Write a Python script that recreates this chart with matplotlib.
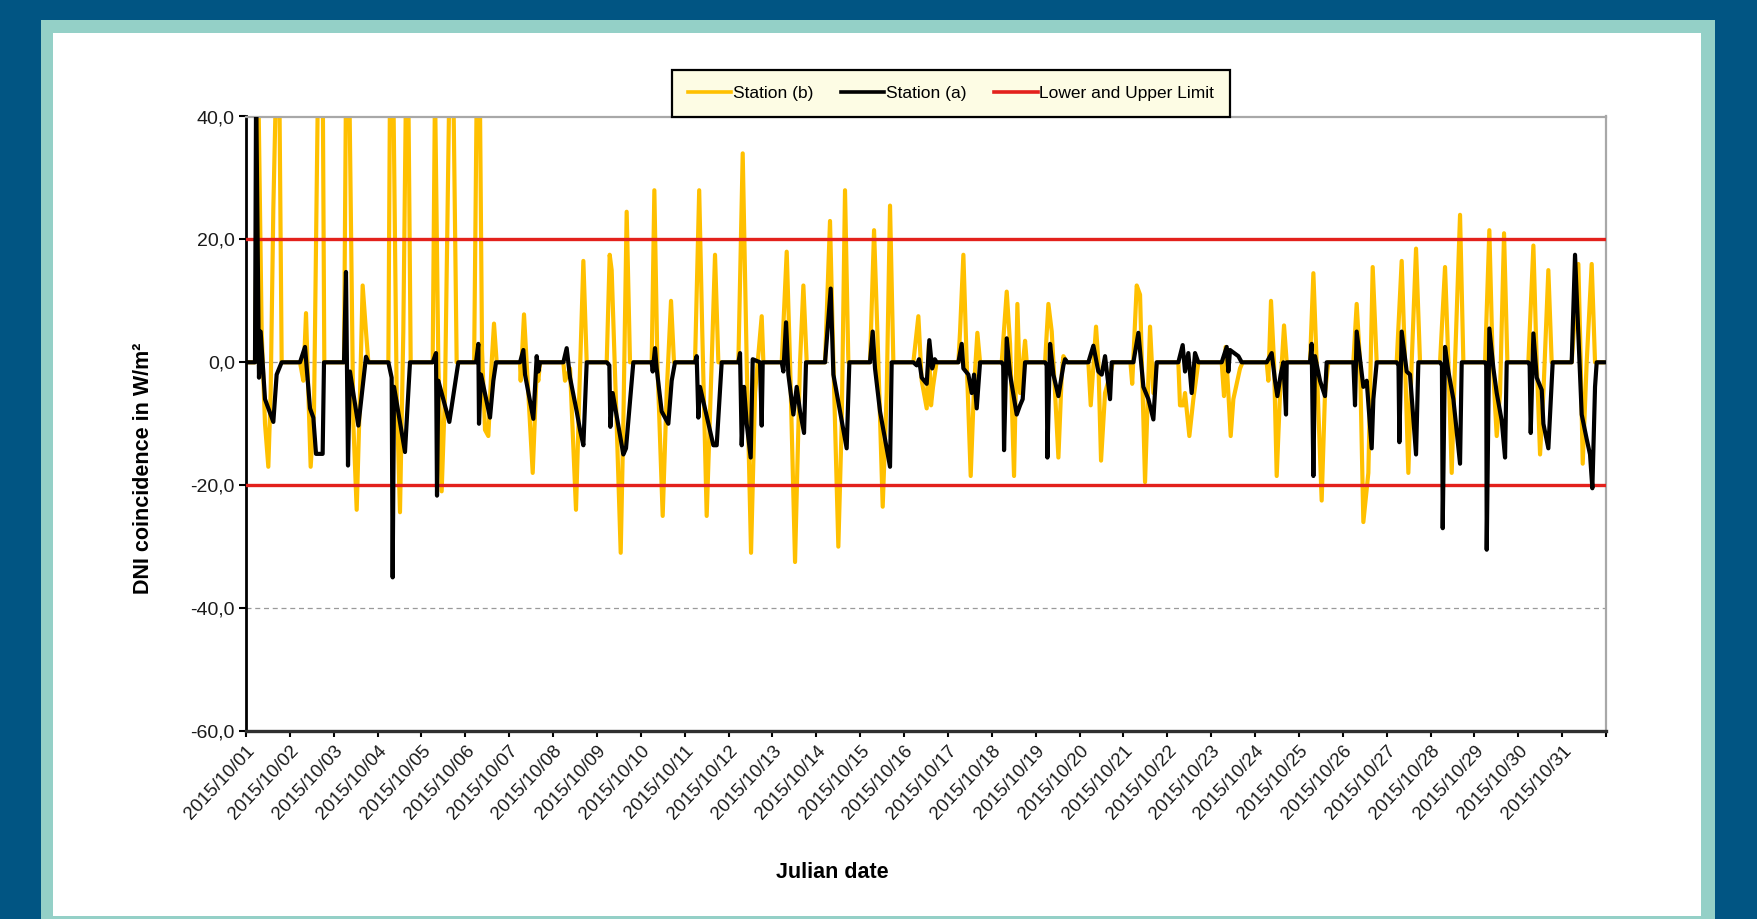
import matplotlib
matplotlib.use("Agg")
import matplotlib.pyplot as plt
from matplotlib.patches import Rectangle
from matplotlib.lines import Line2D
from matplotlib.ticker import FuncFormatter

plt.rcParams['font.family'] = ['Liberation Sans', 'DejaVu Sans']

W, H = 1757, 919

# tick labels on the x axis (one per day)
day_labels = [
    "2015/10/01", "2015/10/02", "2015/10/03", "2015/10/04", "2015/10/05",
    "2015/10/06", "2015/10/07", "2015/10/08", "2015/10/09", "2015/10/10",
    "2015/10/11", "2015/10/12", "2015/10/13", "2015/10/14", "2015/10/15",
    "2015/10/16", "2015/10/17", "2015/10/18", "2015/10/19", "2015/10/20",
    "2015/10/21", "2015/10/22", "2015/10/23", "2015/10/24", "2015/10/25",
    "2015/10/26", "2015/10/27", "2015/10/28", "2015/10/29", "2015/10/30",
    "2015/10/31",
]
y_ticks = [-60, -40, -20, 0, 20, 40]
limits = [-20, 20]

# Station (b): time in days since 2015/10/01 00:00, DNI difference in W/m2
b_t = [0.0,
       0.205, 0.281, 0.357, 0.433, 0.509, 0.562, 0.623, 0.684, 0.760, 0.813,
       1.231, 1.307, 1.368, 1.421, 1.474, 1.550, 1.640, 1.750, 1.785,
       2.234, 2.279, 2.355, 2.447, 2.523, 2.599, 2.659, 2.735, 2.789,
       3.245, 3.282, 3.358, 3.434, 3.510, 3.586, 3.647, 3.700, 3.754,
       4.255, 4.308, 4.384, 4.460, 4.536, 4.635, 4.726, 4.802,
       5.200, 5.260, 5.330, 5.380, 5.448, 5.524, 5.600, 5.653, 5.714,
       6.246, 6.261, 6.337, 6.436, 6.535, 6.626, 6.664, 6.702,
       7.234, 7.272, 7.386, 7.522, 7.598, 7.690, 7.766,
       8.222, 8.290, 8.335, 8.449, 8.541, 8.601, 8.677, 8.753,
       9.247, 9.308, 9.377, 9.498, 9.589, 9.688, 9.756,
       10.235, 10.330, 10.400, 10.463, 10.501, 10.615, 10.691, 10.767,
       11.223, 11.322, 11.413, 11.512, 11.603, 11.755, 11.793,
       12.211, 12.325, 12.401, 12.515, 12.568, 12.629, 12.705, 12.781,
       13.199, 13.312, 13.389, 13.502, 13.578, 13.654, 13.730,
       14.224, 14.316, 14.414, 14.513, 14.604, 14.680, 14.756,
       15.212, 15.326, 15.402, 15.516, 15.565, 15.615, 15.660, 15.740,
       16.238, 16.276, 16.352, 16.428, 16.519, 16.595, 16.671, 16.732,
       17.226, 17.340, 17.416, 17.507, 17.583, 17.644, 17.758, 17.796,
       18.214, 18.290, 18.366, 18.442, 18.518, 18.594, 18.632, 18.708,
       19.201, 19.255, 19.376, 19.429, 19.490, 19.581, 19.733, 19.756,
       20.160, 20.200, 20.303, 20.379, 20.493, 20.607, 20.683, 20.759,
       21.252, 21.290, 21.366, 21.404, 21.503, 21.594, 21.708,
       22.240, 22.293, 22.330, 22.392, 22.445, 22.506, 22.658, 22.718,
       23.266, 23.304, 23.364, 23.433, 23.494, 23.570, 23.661, 23.722,
       24.253, 24.330, 24.405, 24.519, 24.595, 24.671,
       25.241, 25.317, 25.393, 25.469, 25.583, 25.682, 25.773,
       26.229, 26.343, 26.419, 26.495, 26.571, 26.670, 26.761,
       27.217, 27.331, 27.407, 27.483, 27.559, 27.673, 27.749,
       28.243, 28.341, 28.417, 28.509, 28.585, 28.676, 28.752,
       29.230, 29.345, 29.421, 29.497, 29.573, 29.686, 29.762,
       30.218, 30.370, 30.424, 30.469, 30.560, 30.674, 30.750,
       31.0]
b_v = [0,
       0, 45, 5, -10, -17, -5, 25, 45, 45, 0,
       0, -3, 8, -5, -17, -8, 45, 45, 0,
       0, 45, 45, -10, -24, -5, 12.5, 5, 0,
       0, 45, 45, -5, -24.4, 5, 45, 45, 0,
       0, 45, 0, -21, -5, 45, 45, 0,
       0, 45, 45, 2, -11, -12, 0, 6.3, 0,
       0, -3, 7.8, -5, -18, -1.5, -3, 0,
       0, -3, -1, -24, -5, 16.5, 0,
       0, 17.5, 15, -10, -31, -10, 24.5, 0,
       0, 28, 0, -25, -5, 10, 0,
       0, 28, 5, -14, -25, 0, 17.5, 0,
       0, 34, 0, -31, -5, 7.5, 0,
       0, 18, 0, -32.5, -17, 0, 12.5, 0,
       0, 23, 0, -30, -10, 28, 0,
       0, 21.5, 0, -23.5, -5, 25.5, 0,
       0, 7.5, -3, -7.5, 3, -7, -4, 0,
       0, 5, 17.5, 0, -18.5, -4, 4.8, 0,
       0, 11.5, 3, -18.5, 9.5, -5, 3.5, 0,
       0, 9.5, 5, -5, -15.5, -2, 1, 0,
       0, -7, 5.8, 0, -16, -5, -1, 0,
       0, -3.5, 12.5, 11, -19.5, 5.8, -5, 0,
       0, -7, -7, -5, -12, -6, 0,
       0, -5.5, 2.5, -5, -12, -6, -1, 0,
       0, -3, 10, 0, -18.5, -5, 6, 0,
       0, 14.5, 0, -22.5, -5, 0,
       0, 9.5, 0, -26, -18, 15.5, 0,
       0, 16.5, 0, -18, 0, 18.5, 0,
       0, 15.5, 0, -18, 0, 24, 0,
       0, 21.5, 0, -12, -5, 21, 0,
       0, 19, 0, -15, -5, 15, 0,
       0, 16, 0, -16.5, 0, 16, 0,
       0]

# Station (a)
a_t = [0.0,
       0.205, 0.230, 0.296, 0.334, 0.433, 0.623, 0.699, 0.813,
       1.231, 1.345, 1.459, 1.535, 1.596, 1.747, 1.778,
       2.234, 2.279, 2.325, 2.370, 2.561, 2.735, 2.789,
       3.245, 3.320, 3.343, 3.374, 3.624, 3.738,
       4.255, 4.331, 4.354, 4.384, 4.635, 4.840,
       5.243, 5.296, 5.311, 5.357, 5.562, 5.638, 5.699,
       6.246, 6.322, 6.360, 6.550, 6.626, 6.664, 6.702,
       7.234, 7.310, 7.386, 7.538, 7.614, 7.690, 7.766,
       8.222, 8.282, 8.305, 8.358, 8.601, 8.662, 8.829,
       9.247, 9.270, 9.323, 9.361, 9.475, 9.627, 9.703, 9.779,
       10.235, 10.273, 10.311, 10.349, 10.653, 10.729, 10.843,
       11.223, 11.261, 11.299, 11.352, 11.413, 11.504, 11.550, 11.717, 11.755, 11.778,
       12.211, 12.249, 12.310, 12.363, 12.477, 12.553, 12.629, 12.720, 12.765,
       13.199, 13.328, 13.389, 13.692, 13.753,
       14.224, 14.285, 14.338, 14.452, 14.642, 14.680, 14.718,
       15.212, 15.288, 15.341, 15.402, 15.516, 15.576, 15.640, 15.700, 15.744,
       16.238, 16.314, 16.352, 16.466, 16.542, 16.595, 16.656, 16.732,
       17.226, 17.260, 17.279, 17.340, 17.416, 17.568, 17.644, 17.704, 17.758,
       18.214, 18.250, 18.267, 18.328, 18.404, 18.518, 18.632, 18.670, 18.723,
       19.201, 19.315, 19.429, 19.505, 19.581, 19.695, 19.733,
       20.227, 20.341, 20.455, 20.569, 20.683, 20.759,
       21.252, 21.351, 21.404, 21.480, 21.556, 21.632, 21.708,
       22.240, 22.354, 22.392, 22.430, 22.620, 22.696,
       23.266, 23.380, 23.456, 23.509, 23.585, 23.646, 23.706, 23.722,
       24.253, 24.291, 24.330, 24.367, 24.481, 24.595, 24.633,
       25.241, 25.279, 25.317, 25.393, 25.469, 25.545, 25.659, 25.697, 25.773,
       26.229, 26.270, 26.290, 26.343, 26.457, 26.533, 26.670, 26.723,
       27.217, 27.260, 27.278, 27.331, 27.407, 27.521, 27.673, 27.711,
       28.243, 28.270, 28.281, 28.341, 28.433, 28.509, 28.623, 28.699, 28.737,
       29.230, 29.260, 29.284, 29.345, 29.421, 29.535, 29.573, 29.686, 29.785,
       30.218, 30.294, 30.446, 30.560, 30.636, 30.689, 30.750, 30.788,
       31.0]
a_v = [0,
       0, 45, -2.5, 5, -6, -9.7, -2, 0,
       0, 2.5, -7.5, -9, -14.9, -14.9, 0,
       0, 14.7, -16.8, -1.5, -10.3, 0.9, 0,
       0, -2.5, -35, -4, -14.6, 0,
       0, 1.5, -21.7, -3, -9.7, 0,
       0, 3, -10, -2, -9, -3, 0,
       0, 2, -2, -9.2, 1, -1.5, 0,
       0, 2.3, -2.5, -8, -11, -13.5, 0,
       0, -0.5, -10.5, -5, -15, -14, 0,
       0, -1.5, 2.3, -1, -8, -10, -3, 0,
       0, 1, -9, -4, -13.5, -13.5, 0,
       0, 1.5, -13.5, -4, -10, -15.5, 0.5, 0, -10.3, 0,
       0, -1.5, 6.5, -2, -8.5, -4, -8, -11.5, 0,
       0, 12, -2, -14, 0,
       0, 5, -1, -8, -15.5, -17, 0,
       0, -0.5, 0.5, -2.5, -3.5, 3.6, -1, 0.5, 0,
       0, 3, -1, -2, -5, -2, -7.5, 0,
       0, -0.5, -14.3, 3.9, -2, -8.5, -7, -6, 0,
       0, -0.5, -15.5, 3, -2, -5.5, -0.5, 0.5, 0,
       0, 2.7, -1.5, -2, 1, -6, 0,
       0, 4.8, -4, -6, -9.3, 0,
       0, 2.8, -1.5, 1.5, -5, 1.5, 0,
       0, 2.5, -1.5, 2, 1, 0,
       0, 1.5, -3, -5.5, -2, 0, -8.5, 0,
       0, 3, -18.5, 1, -3, -5.5, 0,
       0, -7, 5, 0.5, -4, -3, -14, -6, 0,
       0, -0.5, -13, 5, -1.5, -2, -15, 0,
       0, -0.5, -27, 2.5, -1.5, -6, -16.5, 0,
       0, -0.5, -30.5, 5.5, -1, -5, -9.5, -15.5, 0,
       0, -0.5, -11.5, 4.7, -2.5, -4.5, -10, -14, 0,
       0, 17.5, -8.5, -12.5, -15, -20.5, -4, 0,
       0]

YELLOW = '#FFC000'
RED = '#E3211C'

fig = plt.figure(figsize=(W / 100, H / 100), dpi=100)
fig.patch.set_facecolor('#015583')

# teal frame and white card
fig.add_artist(Rectangle((41 / W, 0), (1715 - 41) / W, (919 - 20) / H,
                         transform=fig.transFigure, facecolor='#94D0C7',
                         edgecolor='none', zorder=0))
fig.add_artist(Rectangle((53 / W, 3 / H), (1701 - 53) / W, (916 - 33) / H,
                         transform=fig.transFigure, facecolor='white',
                         edgecolor='none', zorder=0))

ax = fig.add_axes([246 / W, 1 - 731 / H, 1360 / W, 614.5 / H])
ax.set_facecolor('white')

for y in y_ticks[1:-1]:
    ax.axhline(y, color='#9A9A9A', lw=0.9, ls=(0, (4, 3)), zorder=1)

ax.plot(b_t, b_v, color=YELLOW, lw=3.0, zorder=2, solid_joinstyle='round')
for lim in limits:
    ax.axhline(lim, color=RED, lw=2.4, zorder=3)
ax.plot(a_t, a_v, color='black', lw=3.0, zorder=4, solid_joinstyle='round')

ax.set_xlim(0, 31)
ax.set_ylim(-60, 40)
ax.set_yticks(y_ticks)
ax.yaxis.set_major_formatter(FuncFormatter(lambda v, p: f"{v:.1f}".replace('.', ',')))
ax.set_xticks(range(32))
ax.set_xticklabels(day_labels + [""])

for lab in ax.get_xticklabels():
    lab.set_rotation(47)
    lab.set_ha('right')
    lab.set_va('top')
    lab.set_rotation_mode('anchor')

ax.tick_params(axis='y', direction='out', length=5, width=1.5, labelsize=14,
               colors='black', labelcolor='#1A1A1A', pad=3)
ax.tick_params(axis='x', direction='out', length=4, width=1.5, labelsize=13.5,
               colors='black', labelcolor='#1A1A1A', pad=4)

ax.spines['left'].set_color('black')
ax.spines['left'].set_linewidth(2)
ax.spines['bottom'].set_color('#303030')
ax.spines['bottom'].set_linewidth(2.4)
for s in ('top', 'right'):
    ax.spines[s].set_color('#A8A8A8')
    ax.spines[s].set_linewidth(1.6)

ax.set_ylabel('DNI coincidence in W/m²', fontsize=15.5, fontweight='bold')
ax.yaxis.set_label_coords(-0.068, 0.428)
ax.set_xlabel('Julian date', fontsize=15.5, fontweight='bold')
ax.xaxis.set_label_coords(0.431, -0.213)

handles = [Line2D([], [], color=YELLOW, lw=2.6),
           Line2D([], [], color='black', lw=2.6),
           Line2D([], [], color=RED, lw=2.6)]
leg = fig.legend(handles, ['Station (b)', 'Station (a)', 'Lower and Upper Limit'],
                 ncol=3, loc='lower center',
                 bbox_to_anchor=(951 / W, 1 - 116.5 / H),
                 bbox_transform=fig.transFigure, fontsize=12.5,
                 frameon=True, fancybox=False, framealpha=1,
                 edgecolor='black', facecolor='#FDFCE4',
                 handlelength=2.5, handletextpad=0.1, columnspacing=1.6,
                 borderpad=0.9, borderaxespad=0)
leg.get_frame().set_linewidth(1.6)
leg.set_zorder(5)

fig.savefig('out.png', dpi=100, facecolor=fig.get_facecolor())
